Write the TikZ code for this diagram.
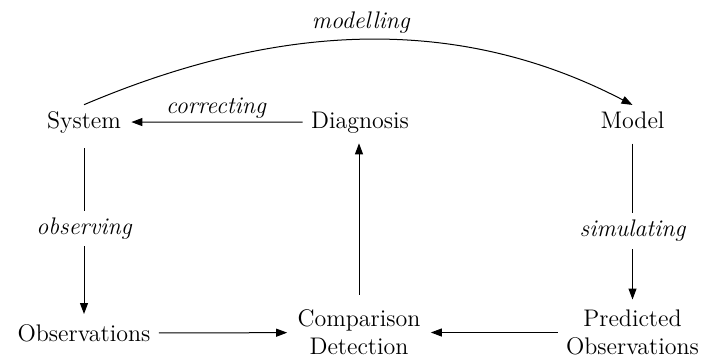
\documentclass[tikz,border=0pt]{standalone}
\usetikzlibrary{arrows.meta}

\begin{document}
\begin{tikzpicture}[x=1pt, y=1pt,
        box/.style={inner sep=3pt, align=center, font=\fontsize{12}{14}\selectfont},
        act/.style={font=\fontsize{12}{14}\selectfont\itshape},
        link/.style={-{Triangle[length=5.5pt,width=4pt]}, line width=0.5pt, shorten >=2pt, shorten <=1pt}]
        \useasboundingbox (0,0) rectangle (352,180);
        \coordinate (sy) at (42,116);
        \coordinate (di) at (180,116);
        \coordinate (mo) at (316.25,116);
        \coordinate (ob) at (42,9.35);
        \coordinate (co) at (179.5,13.75);
        \coordinate (pr) at (316.25,13.75);
        \node[box, anchor=base] (sys) at (sy) {System};
        \node[box, anchor=base] (diag) at (di) {Diagnosis};
        \node[box, anchor=base] (model) at (mo) {Model};
        \node[box, anchor=base] (obs) at (ob) {Observations};
        \node[box] (comp) at (co) {Comparison\\Detection};
        \node[box] (pred) at (pr) {Predicted\\Observations};
        % loop: system -> model -> prediction -> comparison -> diagnosis
        \draw[link, shorten >=0pt, shorten <=0pt] (sys.north) to[out=23, in=152.5, looseness=0.95]
            node[act, above, inner sep=3pt] {modelling} (model.north);
        \draw[link] (diag) -- node[act, above, inner sep=1.5pt] {correcting} (sys);
        \draw[link, shorten <=4.5pt] (sys) -- node[act, fill=white, inner sep=3.5pt] {observing} (obs);
        \draw[link, shorten <=4.5pt] (model) -- node[act, fill=white, inner sep=3.5pt, pos=0.57] {simulating} (pred);
        \draw[link] (obs) -- (comp);
        \draw[link] (pred) -- (comp);
        \draw[link, shorten <=4.5pt] (comp) -- (comp |- diag.south);
    \end{tikzpicture}
\end{document}
